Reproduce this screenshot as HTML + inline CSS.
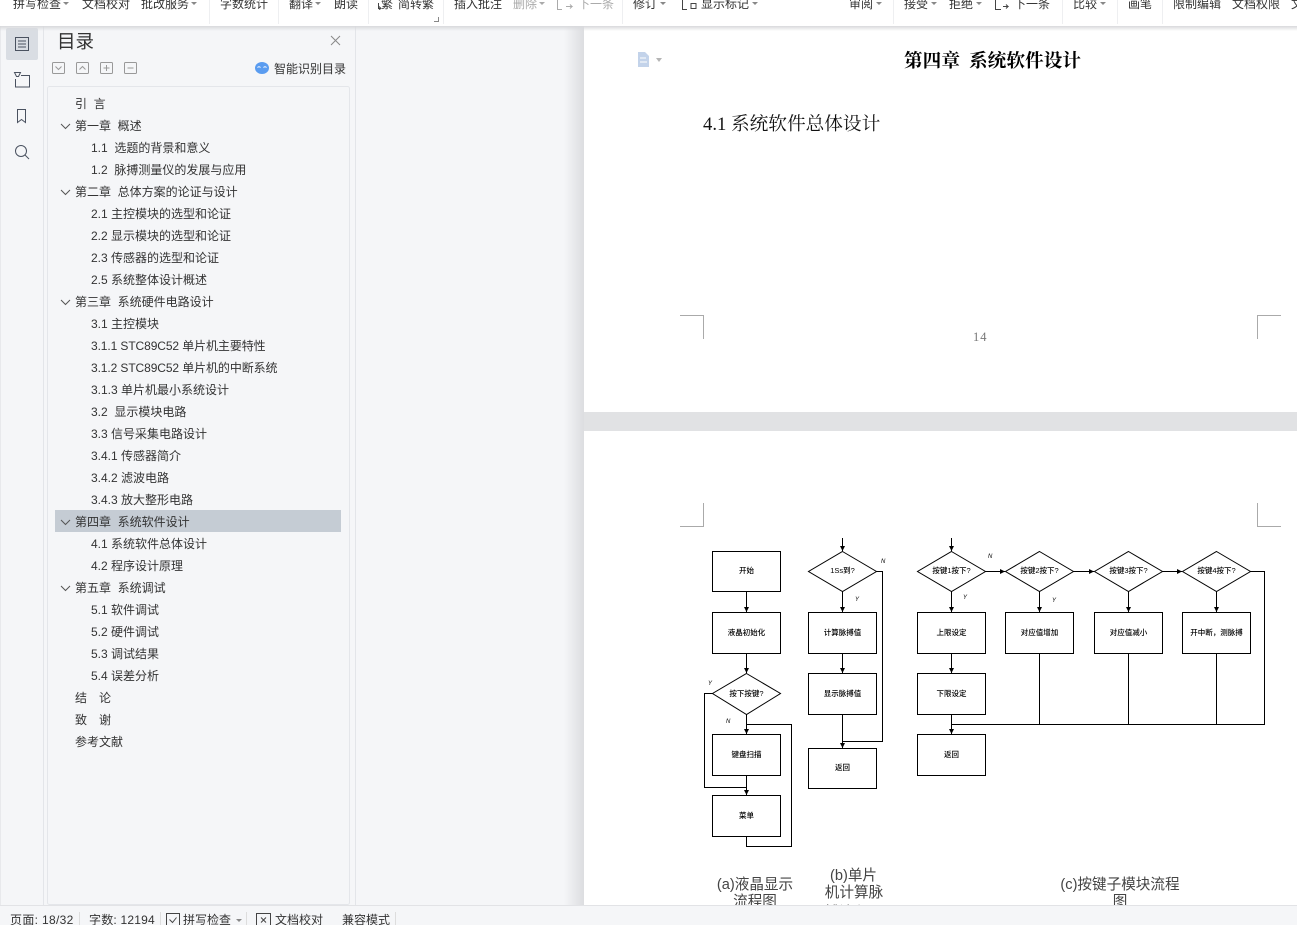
<!DOCTYPE html>
<html><head><meta charset="utf-8"><style>
html,body{margin:0;padding:0;background:#f5f6f8;overflow:hidden}
svg{display:block}
text{font-family:"Liberation Sans","Noto Sans CJK SC",sans-serif;font-size:12px;fill:#333}
.g{fill:#aaa}
.c{text-anchor:middle;font-size:7.5px;fill:#000;font-weight:500}
.yn{font-size:6px;font-style:italic;fill:#000;font-family:"Liberation Sans",sans-serif}
.cap{font-size:14.6px;fill:#444;text-anchor:middle}
.f rect,.f polygon,.f path{fill:none;stroke:#000;stroke-width:1}
.f path.a{marker-end:url(#ar)}
.ic *{fill:none;stroke:#4a5260;stroke-width:1}
.car{fill:#888}
.sv{font-family:"Liberation Serif","Noto Serif CJK SC",serif;font-size:18.67px;fill:#000}
</style></head><body>
<svg xmlns="http://www.w3.org/2000/svg" width="1297" height="925" viewBox="0 0 1297 925">
<defs>
<marker id="ar" markerUnits="userSpaceOnUse" markerWidth="6" markerHeight="6" refX="5" refY="2.5" orient="auto"><polygon points="0,0 5,2.500 0,5" fill="#000"/></marker>
<linearGradient id="sh" x1="0" x2="1" y1="0" y2="0"><stop offset="0" stop-color="#dcdde0" stop-opacity="0"/><stop offset="1" stop-color="#dcdde0"/></linearGradient>
<linearGradient id="tsh" x1="0" x2="0" y1="0" y2="1"><stop offset="0" stop-color="#d8d9dc"/><stop offset="1" stop-color="#d8d9dc" stop-opacity="0"/></linearGradient>
</defs>
<rect width="1297" height="925" fill="#f5f6f8"/>
<rect x="564" y="26" width="20" height="880" fill="url(#sh)"/>
<rect x="584" y="26" width="713" height="386" fill="#fff"/>
<rect x="584" y="412" width="713" height="19" fill="#e1e2e4"/>
<rect x="584" y="431" width="713" height="475" fill="#fff"/>

<!-- left rail / panel -->
<path d="M43.5 26V905M355.5 26V905" stroke="#e3e5e9" fill="none"/>
<path d="M0.5 26V905" stroke="#e8e9ec" fill="none"/>
<rect x="6" y="28" width="32" height="32" rx="2" fill="#d9dde3"/>
<g class="ic">
<rect x="15.5" y="37.5" width="13" height="13"/><path d="M18 41h8M18 44h8M18 47h8"/>
<path d="M14.5 72.500h6l-2 4h-2zM21 75.500h8.500v11.500h-14v-8"/>
<path d="M17.500 109.500h8v13l-4-3-4 3z"/>
<circle cx="21" cy="151" r="5.500"/><path d="M25 155l4 4"/>
</g>
<rect x="47.500" y="86.500" width="302" height="818" rx="2" fill="#f5f6f8" stroke="#e4e6ea"/>
<text x="57" y="48" style="font-size:18.500px">目录</text>
<path d="M331 36l9 9M340 36l-9 9" stroke="#888" fill="none"/>
<g fill="none" stroke="#999">
<rect x="52.500" y="62.500" width="12" height="11" rx="1"/><path d="M55.500 66.500l3 3 3-3" />
<rect x="76.500" y="62.500" width="12" height="11" rx="1"/><path d="M79.500 69.500l3-3 3 3"/>
<rect x="100.500" y="62.500" width="12" height="11" rx="1"/><path d="M103.500 68h6M106.500 65v6"/>
<rect x="124.500" y="62.500" width="12" height="11" rx="1"/><path d="M127.500 68h6"/>
</g>
<ellipse cx="262" cy="68" rx="7" ry="6" fill="#5a9cf0"/>
<path d="M257.500 67.500q1.500-1.500 3 0M263.500 67.500q1.500-1.500 3 0" stroke="#fff" fill="none"/>
<text x="274" y="73">智能识别目录</text>

<rect x="55" y="510" width="286" height="22" fill="#c5ccd4"/>
<g fill="none" stroke="#555">
<path d="M61 124l4.500 4.500 4.500-4.500M61 190l4.500 4.500 4.500-4.500M61 300l4.500 4.500 4.500-4.500M61 520l4.500 4.500 4.500-4.500M61 586l4.500 4.500 4.500-4.500"/>
</g>
<g>
<text x="75" y="108">引&#160;&#160;言</text>
<text x="75" y="130">第一章&#160;&#160;概述</text>
<text x="91" y="152">1.1&#160;&#160;选题的背景和意义</text>
<text x="91" y="174">1.2&#160;&#160;脉搏测量仪的发展与应用</text>
<text x="75" y="196">第二章&#160;&#160;总体方案的论证与设计</text>
<text x="91" y="218">2.1 主控模块的选型和论证</text>
<text x="91" y="240">2.2 显示模块的选型和论证</text>
<text x="91" y="262">2.3 传感器的选型和论证</text>
<text x="91" y="284">2.5 系统整体设计概述</text>
<text x="75" y="306">第三章&#160;&#160;系统硬件电路设计</text>
<text x="91" y="328">3.1 主控模块</text>
<text x="91" y="350" style="letter-spacing:-.1px">3.1.1 STC89C52 单片机主要特性</text>
<text x="91" y="372" style="letter-spacing:-.1px">3.1.2 STC89C52 单片机的中断系统</text>
<text x="91" y="394">3.1.3 单片机最小系统设计</text>
<text x="91" y="416">3.2&#160;&#160;显示模块电路</text>
<text x="91" y="438">3.3 信号采集电路设计</text>
<text x="91" y="460">3.4.1 传感器简介</text>
<text x="91" y="482">3.4.2 滤波电路</text>
<text x="91" y="504">3.4.3 放大整形电路</text>
<text x="75" y="526">第四章&#160;&#160;系统软件设计</text>
<text x="91" y="548">4.1 系统软件总体设计</text>
<text x="91" y="570">4.2 程序设计原理</text>
<text x="75" y="592">第五章&#160;&#160;系统调试</text>
<text x="91" y="614">5.1 软件调试</text>
<text x="91" y="636">5.2 硬件调试</text>
<text x="91" y="658">5.3 调试结果</text>
<text x="91" y="680">5.4 误差分析</text>
<text x="75" y="702" style="letter-spacing:.5px">结&#160;&#160;&#160;论</text>
<text x="75" y="724" style="letter-spacing:.5px">致&#160;&#160;&#160;谢</text>
<text x="75" y="746">参考文献</text>
</g>

<!-- page 1 content -->
<path d="M638 52h7l4 4v11h-11z" fill="#c3d3ea"/>
<path d="M640 58h6M640 62h7" stroke="#fff" fill="none"/>
<polygon points="656,58 662,58 659,62" style="fill:#b5b5b5"/>
<text class="sv" x="904" y="67" style="font-weight:700">第四章</text>
<text class="sv" x="969" y="67" style="font-weight:700">系统软件设计</text>
<text class="sv" x="703" y="130" style="fill:#111">4.1 系统软件总体设计</text>
<text x="973" y="341" style="font-family:'Liberation Serif',serif;font-size:12.500px;fill:#777;letter-spacing:1px">14</text>
<g fill="none" stroke="#aaa">
<path d="M680 315.500h23.500V339M1281 315.500h-23.500V339"/>
<path d="M680 526.500h23.500V503M1281 526.500h-23.500V503"/>
</g>

<!-- flowchart -->
<g class="f">
<!-- a -->
<rect x="712.500" y="551.500" width="68" height="40"/>
<rect x="712.500" y="612.500" width="68" height="41"/>
<polygon points="746.500,673.500 780.500,693.500 746.500,714.500 712.500,693.500"/>
<rect x="712.500" y="734.500" width="68" height="41"/>
<rect x="712.500" y="795.500" width="68" height="41"/>
<path class="a" d="M746.500 591.500V612"/>
<path class="a" d="M746.500 653.500V673"/>
<path class="a" d="M746.500 714.500V734"/>
<path class="a" d="M746.500 775.500V795"/>
<path d="M712.500 693.500H704.500V787.500H746.500"/>
<path d="M746.500 836.500V846.500H791.500V724.500H746.500"/>
<!-- b -->
<polygon points="842.500,551.500 876.500,571.500 842.500,591.500 808.500,571.500"/>
<rect x="808.500" y="612.500" width="68" height="41"/>
<rect x="808.500" y="673.500" width="68" height="41"/>
<rect x="808.500" y="748.500" width="68" height="40"/>
<path class="a" d="M842.500 538V551"/>
<path class="a" d="M842.500 591.500V612"/>
<path class="a" d="M842.500 653.500V673"/>
<path class="a" d="M842.500 714.500V748"/>
<path d="M876.500 571.500H882.500V741.500H842.500"/>
<!-- c -->
<polygon points="951.500,551.500 985.500,571.500 951.500,591.500 917.500,571.500"/>
<polygon points="1039.500,551.500 1073.500,571.500 1039.500,591.500 1005.500,571.500"/>
<polygon points="1128.500,551.500 1162.500,571.500 1128.500,591.500 1094.500,571.500"/>
<polygon points="1216.500,551.500 1250.500,571.500 1216.500,591.500 1182.500,571.500"/>
<rect x="917.500" y="612.500" width="68" height="41"/>
<rect x="917.500" y="673.500" width="68" height="41"/>
<rect x="917.500" y="734.500" width="68" height="41"/>
<rect x="1005.500" y="612.500" width="68" height="41"/>
<rect x="1094.500" y="612.500" width="68" height="41"/>
<rect x="1182.500" y="612.500" width="68" height="41"/>
<path class="a" d="M951.500 538V551"/>
<path class="a" d="M951.500 591.500V612"/>
<path class="a" d="M951.500 653.500V673"/>
<path class="a" d="M951.500 714.500V734"/>
<path class="a" d="M1039.500 591.500V612"/>
<path class="a" d="M1128.500 591.500V612"/>
<path class="a" d="M1216.500 591.500V612"/>
<path class="a" d="M985.500 571.500H1005"/>
<path class="a" d="M1073.500 571.500H1094"/>
<path class="a" d="M1162.500 571.500H1182"/>
<path d="M1250.500 571.500H1264.500V724.500H951.500"/>
<path d="M1039.500 653.500V724.500M1128.500 653.500V724.500M1216.500 653.500V724.500"/>
</g>
<text class="c" x="746.500" y="573">开始</text>
<text class="c" x="746.500" y="635">液晶初始化</text>
<text class="c" x="746.500" y="696">按下按键?</text>
<text class="c" x="746.500" y="757">键盘扫描</text>
<text class="c" x="746.500" y="818">菜单</text>
<text class="c" x="842.500" y="573">1Ss到?</text>
<text class="c" x="842.500" y="635">计算脉搏值</text>
<text class="c" x="842.500" y="696">显示脉搏值</text>
<text class="c" x="842.500" y="770">返回</text>
<text class="c" x="951.500" y="573">按键1按下?</text>
<text class="c" x="1039.500" y="573">按键2按下?</text>
<text class="c" x="1128.500" y="573">按键3按下?</text>
<text class="c" x="1216.500" y="573">按键4按下?</text>
<text class="c" x="951.500" y="635">上限设定</text>
<text class="c" x="951.500" y="696">下限设定</text>
<text class="c" x="951.500" y="757">返回</text>
<text class="c" x="1039.500" y="635">对应值增加</text>
<text class="c" x="1128.500" y="635">对应值减小</text>
<text class="c" x="1216.500" y="635">开中断，测脉搏</text>
<text class="yn" x="708" y="685">Y</text>
<text class="yn" x="726" y="723">N</text>
<text class="yn" x="881" y="563">N</text>
<text class="yn" x="855" y="601">Y</text>
<text class="yn" x="988" y="558">N</text>
<text class="yn" x="963" y="599">Y</text>
<text class="yn" x="1052" y="602">Y</text>

<text class="cap" x="755" y="889">(a)液晶显示</text>
<text class="cap" x="755" y="906">流程图</text>
<text class="cap" x="853.500" y="880">(b)单片</text>
<text class="cap" x="854" y="897">机计算脉</text>
<text class="cap" x="854" y="917">搏流程图</text>
<text class="cap" x="1120" y="889">(c)按键子模块流程</text>
<text class="cap" x="1120" y="906">图</text>

<!-- status bar -->
<rect x="0" y="905" width="1297" height="20" fill="#f5f6f8"/>
<path d="M0 905.500H1297" stroke="#e2e3e6"/>
<g stroke="#ddd" fill="none"><path d="M79.500 912V925M160.500 912V925M246.500 912V925M395.500 912V925"/></g>
<text x="10" y="924" style="letter-spacing:.33px">页面: 18/32</text>
<text x="89" y="924" style="letter-spacing:.2px">字数: 12194</text>
<rect x="166.500" y="913.500" width="13" height="13" fill="none" stroke="#444"/>
<path d="M169.500 919.500l3 3 4-5" fill="none" stroke="#444"/>
<text x="183" y="924">拼写检查</text>
<polygon class="car" points="236,919 242,919 239,922"/>
<rect x="256.500" y="913.500" width="14" height="13" fill="none" stroke="#444"/>
<path d="M261 917.500l5 5M266 917.500l-5 5" fill="none" stroke="#444"/>
<text x="275" y="924">文档校对</text>
<text x="342" y="924">兼容模式</text>

<!-- toolbar -->
<rect x="0" y="26" width="1297" height="5" fill="url(#tsh)"/>
<rect x="0" y="0" width="1297" height="26" fill="#fff"/>
<g stroke="#eeeff1" fill="none"><path d="M209.500 0V24M278.500 0V24M368.500 0V24M443.500 0V24M622.500 0V24M893.500 0V24M1062.500 0V24M1117.500 0V24M1162.500 0V24"/></g>
<g>
<text x="13" y="8">拼写检查</text><text x="82" y="8">文档校对</text><text x="141" y="8">批改服务</text>
<text x="220" y="8">字数统计</text><text x="289" y="8">翻译</text><text x="334" y="8">朗读</text>
<text x="381" y="8">繁</text><text x="398" y="8">简转繁</text>
<text x="454" y="8">插入批注</text><text x="513" y="8" style="fill:#aaa">删除</text><text x="578" y="8" style="fill:#aaa">下一条</text>
<text x="633" y="8">修订</text><text x="701" y="8">显示标记</text>
<text x="849" y="8">审阅</text><text x="904" y="8">接受</text><text x="949" y="8">拒绝</text><text x="1014" y="8">下一条</text>
<text x="1073" y="8">比较</text><text x="1128" y="8">画笔</text><text x="1173" y="8">限制编辑</text><text x="1232" y="8">文档权限</text><text x="1291" y="8">文</text>
</g>
<g class="car">
<polygon points="63,2 69,2 66,5"/><polygon points="191,2 197,2 194,5"/><polygon points="315,2 321,2 318,5"/>
<polygon points="539,2 545,2 542,5" style="fill:#aaa"/><polygon points="660,2 666,2 663,5"/><polygon points="752,2 758,2 755,5"/>
<polygon points="876,2 882,2 879,5"/><polygon points="931,2 937,2 934,5"/><polygon points="976,2 982,2 979,5"/>
<polygon points="1100,2 1106,2 1103,5"/>
</g>
<g fill="none" stroke="#444">
<path d="M378.500 3V8.500H381M379 6.500l2 2-2 1"/>
<path d="M682.500 0V9.500H687M691 3.500h5v5h-5z"/>
<path d="M995.500 0V9.500H1001M1003 6.500h5l-2-2M1008 6.500l-2 2"/>
<path d="M434 21.500h4.500V17" stroke="#888"/>
</g>
<g fill="none" stroke="#aaa"><path d="M557.500 0V9.500H562M566 6.500h6l-2-2M572 6.500l-2 2"/></g>
</svg>
</body></html>
